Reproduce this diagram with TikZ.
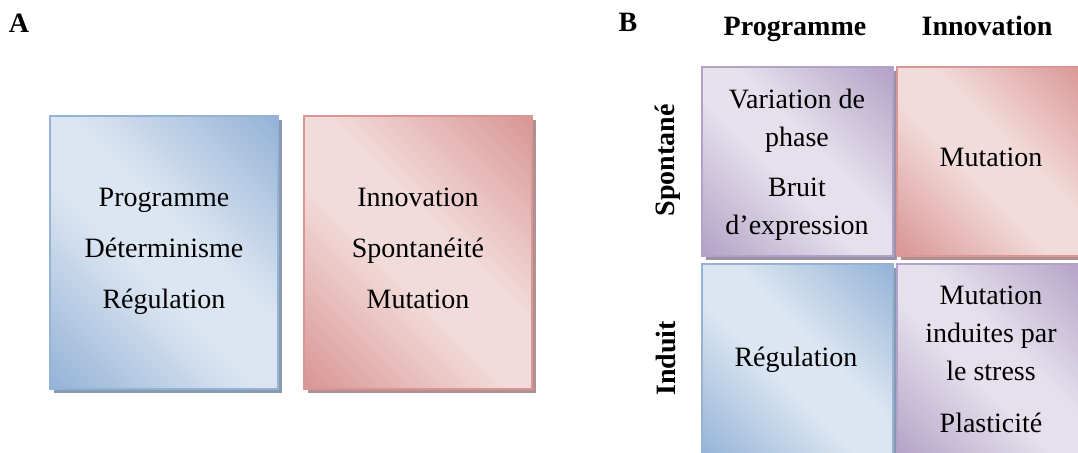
\documentclass[tikz,border=0pt]{standalone}
\usepackage{fontspec}
\setmainfont{Liberation Serif}
\usetikzlibrary{shadows}
\definecolor{bluelight}{HTML}{DCE6F2}
\definecolor{bluedark}{HTML}{95B3D7}
\definecolor{blueshadow}{HTML}{8A99B2}
\definecolor{redlight}{HTML}{F2DCDB}
\definecolor{reddark}{HTML}{D99694}
\definecolor{redshadow}{HTML}{B09090}
\definecolor{purplelight}{HTML}{E5E0EC}
\definecolor{purpledark}{HTML}{B3A2C7}
\definecolor{purpleshadow}{HTML}{9A91A6}
\pgfdeclarehorizontalshading{blueshade}{100bp}{color(0bp)=(bluedark); color(15bp)=(bluedark); color(44bp)=(bluelight); color(56bp)=(bluelight); color(85bp)=(bluedark); color(100bp)=(bluedark)}
\pgfdeclarehorizontalshading{redshade}{100bp}{color(0bp)=(reddark); color(15bp)=(reddark); color(44bp)=(redlight); color(56bp)=(redlight); color(85bp)=(reddark); color(100bp)=(reddark)}
\pgfdeclarehorizontalshading{purpleshade}{100bp}{color(0bp)=(purpledark); color(15bp)=(purpledark); color(44bp)=(purplelight); color(56bp)=(purplelight); color(85bp)=(purpledark); color(100bp)=(purpledark)}
\tikzset{
  box/.style={rectangle, line width=2bp, inner sep=0, anchor=north west, shade, shading angle=45},
  bluebox/.style={box, shading=blueshade, draw=bluedark, drop shadow={shadow xshift=4bp, shadow yshift=-4bp, fill=blueshadow, opacity=1}},
  redbox/.style={box, shading=redshade, draw=reddark, drop shadow={shadow xshift=4bp, shadow yshift=-4bp, fill=redshadow, opacity=1}},
  purplebox/.style={box, shading=purpleshade, draw=purpledark, drop shadow={shadow xshift=4bp, shadow yshift=-4bp, fill=purpleshadow, opacity=1}},
  txtA/.style={font=\fontsize{28bp}{51bp}\selectfont, align=center, inner sep=0},
  txtB/.style={font=\fontsize{28bp}{38bp}\selectfont, align=center, inner sep=0},
  head/.style={font=\bfseries\fontsize{28bp}{34bp}\selectfont, inner sep=0, anchor=base},
}
\begin{document}
\begin{tikzpicture}[x=1bp, y=-1bp]
\useasboundingbox (0,0) rectangle (1078,453);
% Panel A
\node[head] (labA) at (19,33) {A};
\node[bluebox, minimum width=228bp, minimum height=273bp] (a1) at (49,115) {};
\node[redbox, minimum width=228bp, minimum height=273bp] (a2) at (303,115) {};
\node[txtA] (ta1) at (164,251.8) {Programme\\Déterminisme\\Régulation};
\node[txtA] (ta2) at (418,248.8) {Innovation\\Spontanéité\\Mutation};
% Panel B
\node[head] (labB) at (628,32) {B};
\node[head] (hprog) at (795,36) {Programme};
\node[head] (hinno) at (987,36) {Innovation};
\node[head, anchor=center, rotate=90] (hspon) at (667.5,160.5) {Spontané};
\node[head, anchor=center, rotate=90] (hind) at (665.5,358.5) {Induit};
\node[purplebox, minimum width=191bp, minimum height=189bp] (b1) at (701,66) {};
\node[redbox, minimum width=190bp, minimum height=189bp] (b2) at (896,66) {};
\node[bluebox, minimum width=191bp, minimum height=195bp] (b3) at (701,263) {};
\node[purplebox, minimum width=190bp, minimum height=195bp] (b4) at (896,263) {};
\node[txtB] (tb1) at (797,164.5) {Variation de\\phase\\[12bp]Bruit\\d’expression};
\node[txtB, anchor=base] (tb2) at (991,167) {Mutation};
\node[txtB, anchor=base] (tb3) at (796,367) {Régulation};
\node[txtB] (tb4) at (991,359.8) {Mutation\\induites par\\le stress\\[14bp]Plasticité};
\end{tikzpicture}
\end{document}
